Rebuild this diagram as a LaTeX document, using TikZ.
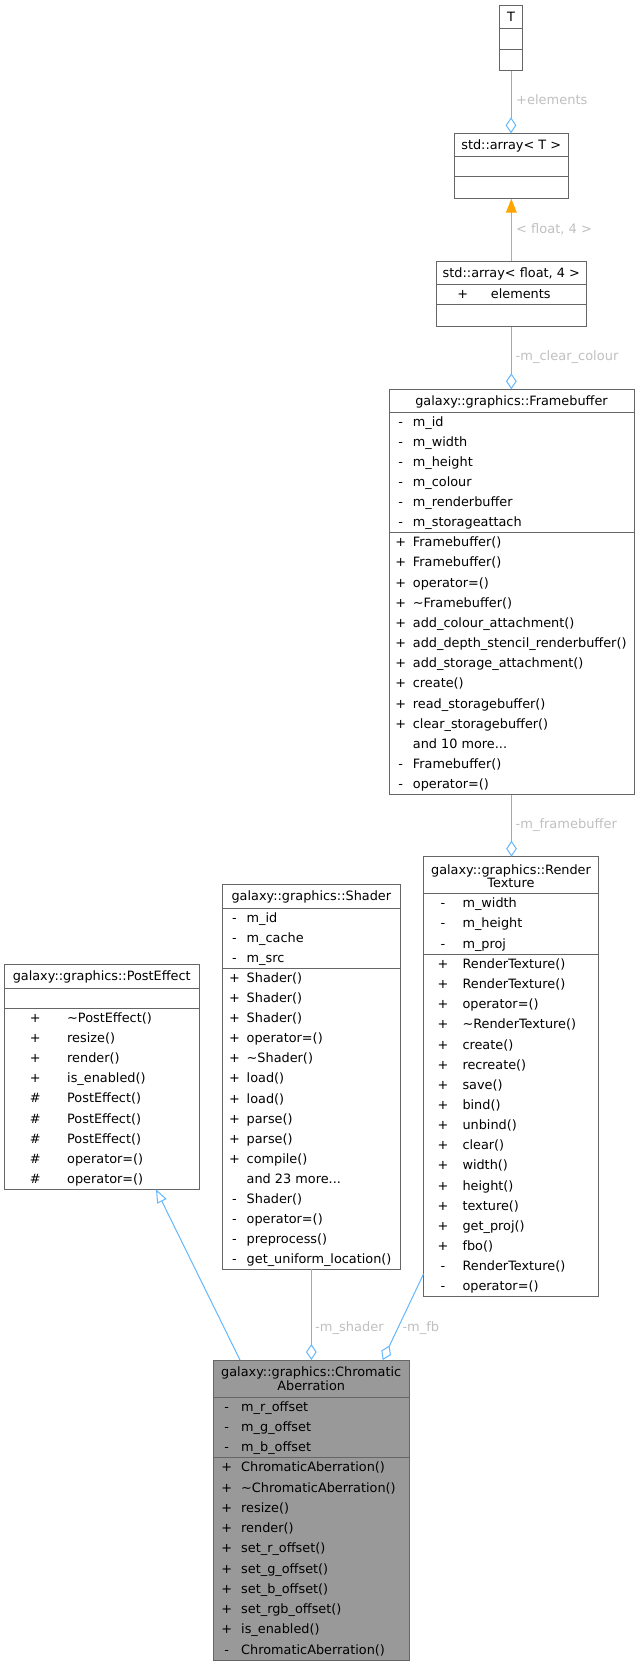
\documentclass[tikz,border=0pt]{standalone}
\usepackage{fontspec}
\setmainfont{DejaVu Sans}
\usetikzlibrary{arrows.meta,calc}
\definecolor{edgeblue}{HTML}{63B8FF}
\definecolor{boxgray}{HTML}{666666}
\definecolor{labgray}{HTML}{C0C0C0}
\definecolor{cafill}{HTML}{999999}
\definecolor{instorange}{HTML}{FFA500}
\newcommand\fsz{\fontsize{12.85}{13.3}\selectfont}
\newcommand\lsz{\fontsize{13}{13.3}\selectfont}
\newcommand\threedots{...}
\tikzset{
  classbox/.style={draw=boxgray, line width=1pt, fill=white, rectangle, inner sep=0pt, outer sep=0pt, anchor=north west},
  sepline/.style={draw=boxgray, line width=1pt},
  mem/.style={anchor=base west, inner sep=0pt, font=\fsz},
  sym/.style={anchor=base, inner sep=0pt, font=\fsz},
  ttl/.style={anchor=base, inner sep=0pt, font=\fsz},
  elab/.style={anchor=base west, inner sep=0pt, text=labgray, font=\lsz},
  assoc/.style={draw=edgeblue, line width=1pt, -{Diamond[open, length=16pt, width=10.7pt]}},
  inherit/.style={draw=edgeblue, line width=1pt, -{Triangle[open, length=13.4pt, width=10.4pt]}},
  instline/.style={draw=instorange, line width=1pt, -{Triangle[length=14pt, width=10.7pt]}}
}
% prefix, sym x, text x, top y, row height, list sym/text
\newcommand\rows[6]{%
  \foreach \msym/\mtxt [count=\i] in {#6}{%
    \node[sym] (#1s\i) at ({#2},{#4+(\i-0.5)*#5+4.3}) {\msym};
    \node[mem] (#1t\i) at ({#3},{#4+(\i-0.5)*#5+4.3}) {\mtxt};
  }}
\newcommand\hsep[3]{\draw[sepline] ({#1},{#3}) -- ({#2},{#3});}
\begin{document}
\begin{tikzpicture}[x=1pt,y=-1pt]
\useasboundingbox (0,0) rectangle (639,1665);
\fill[white] (0,0) rectangle (639,1665);

% ---------- T ----------
\node[classbox, minimum width=23.4pt, minimum height=65.7pt] (T) at (499.3,5) {};
\hsep{499.3}{522.7}{28.3}
\hsep{499.3}{522.7}{49}
\node[ttl] (Tt) at (511,21) {T};

% ---------- std::array< T > ----------
\node[classbox, minimum width=114.3pt, minimum height=65.4pt] (arrT) at (454,133.3) {};
\hsep{454}{568.3}{156.7}
\hsep{454}{568.3}{176.7}
\node[ttl] (arrTt) at (511.2,149.3) {std::array< T >};

% ---------- std::array< float, 4 > ----------
\node[classbox, minimum width=150.7pt, minimum height=65.7pt] (arrF) at (436,261) {};
\hsep{436}{586.7}{284.3}
\hsep{436}{586.7}{304.3}
\node[ttl] (arrFt) at (511.3,277) {std::array< float, 4 >};
\node[sym] (arrFs1) at (462.7,298.6) {+};
\node[mem] (arrFm1) at (490.7,298.6) {elements};

% ---------- Framebuffer ----------
\node[classbox, minimum width=245pt, minimum height=405.4pt] (fb) at (389,389.3) {};
\hsep{389}{634}{412}
\hsep{389}{634}{532.3}
\node[ttl] (fbt) at (511.5,405) {galaxy::graphics::Framebuffer};
\rows{fba}{400.7}{412.7}{412}{20.05}{-/m\_id,-/m\_width,-/m\_height,-/m\_colour,-/m\_renderbuffer,-/m\_storageattach}
\rows{fbm}{400.7}{412.7}{532.3}{20.18}{+/Framebuffer(),+/Framebuffer(),+/operator=(),+/\textasciitilde Framebuffer(),+/add\_colour\_attachment(),+/add\_depth\_stencil\_renderbuffer(),+/add\_storage\_attachment(),+/create(),+/read\_storagebuffer(),+/clear\_storagebuffer(),{}/and 10 more\threedots,-/Framebuffer(),-/operator=()}

% ---------- RenderTexture ----------
\node[classbox, minimum width=175pt, minimum height=440pt] (rt) at (423.5,856.7) {};
\hsep{423.5}{598.5}{893.3}
\hsep{423.5}{598.5}{954}
\node[ttl] (rtt1) at (511,874.3) {galaxy::graphics::Render};
\node[ttl] (rtt2) at (511,887.6) {Texture};
\rows{rta}{443}{462.3}{893.3}{20.23}{-/m\_width,-/m\_height,-/m\_proj}
\rows{rtm}{443}{462.3}{954}{20.16}{+/RenderTexture(),+/RenderTexture(),+/operator=(),+/\textasciitilde RenderTexture(),+/create(),+/recreate(),+/save(),+/bind(),+/unbind(),+/clear(),+/width(),+/height(),+/texture(),+/get\_proj(),+/fbo(),-/RenderTexture(),-/operator=()}

% ---------- Shader ----------
\node[classbox, minimum width=177.3pt, minimum height=385.3pt] (sh) at (222.7,884) {};
\hsep{222.7}{400}{908}
\hsep{222.7}{400}{968.3}
\node[ttl] (sht) at (311.3,900.3) {galaxy::graphics::Shader};
\rows{sha}{234.5}{246.5}{908}{20.1}{-/m\_id,-/m\_cache,-/m\_src}
\rows{shm}{234.5}{246.5}{968.3}{20.07}{+/Shader(),+/Shader(),+/Shader(),+/operator=(),+/\textasciitilde Shader(),+/load(),+/load(),+/parse(),+/parse(),+/compile(),{}/and 23 more\threedots,-/Shader(),-/operator=(),-/preprocess(),-/get\_uniform\_location()}

% ---------- PostEffect ----------
\node[classbox, minimum width=194.7pt, minimum height=225.3pt] (pe) at (4.3,964) {};
\hsep{4.3}{199}{988}
\hsep{4.3}{199}{1008}
\node[ttl] (pet) at (101.7,980.3) {galaxy::graphics::PostEffect};
\rows{pem}{35.3}{67}{1008}{20.14}{+/\textasciitilde PostEffect(),+/resize(),+/render(),+/is\_enabled(),\#/PostEffect(),\#/PostEffect(),\#/PostEffect(),\#/operator=(),\#/operator=()}

% ---------- ChromaticAberration ----------
\node[classbox, fill=cafill, minimum width=195.7pt, minimum height=300pt] (ca) at (213.3,1360) {};
\hsep{213.3}{409}{1397.7}
\hsep{213.3}{409}{1457.3}
\node[ttl] (cat1) at (311.2,1376.6) {galaxy::graphics::Chromatic};
\node[ttl] (cat2) at (311.2,1390) {Aberration};
\rows{caa}{226.7}{241}{1397.7}{19.87}{-/m\_r\_offset,-/m\_g\_offset,-/m\_b\_offset}
\rows{cam}{226.7}{241}{1457.3}{20.27}{+/ChromaticAberration(),+/\textasciitilde ChromaticAberration(),+/resize(),+/render(),+/set\_r\_offset(),+/set\_g\_offset(),+/set\_b\_offset(),+/set\_rgb\_offset(),+/is\_enabled(),-/ChromaticAberration()}

% ---------- connectors ----------
\draw[assoc] (T.south) -- (T.south |- arrT.north);
\node[elab] (l1) at (516,104.3) {+elements};
\draw[instline] (arrF.north) -- (arrF.north |- arrT.south);
\node[elab] (l2) at (516,233) {< float, 4 >};
\draw[assoc] (arrF.south) -- (arrF.south |- fb.north);
\node[elab] (l3) at (515.5,360.3) {-m\_clear\_colour};
\draw[assoc] (fb.south) -- (fb.south |- rt.north);
\node[elab] (l4) at (515.5,828) {-m\_framebuffer};
\draw[assoc] (sh.south) -- (sh.south |- ca.north);
\node[elab] (l5) at (315,1331.6) {-m\_shader};
\draw[assoc] ([yshift=-197.3pt]rt.west) -- ([xshift=169.4pt]ca.north west);
\node[elab] (l6) at (402.3,1331.6) {-m\_fb};
\draw[inherit] ([xshift=26.7pt]ca.north west) -- ([xshift=151.7pt]pe.south west);
\end{tikzpicture}
\end{document}
